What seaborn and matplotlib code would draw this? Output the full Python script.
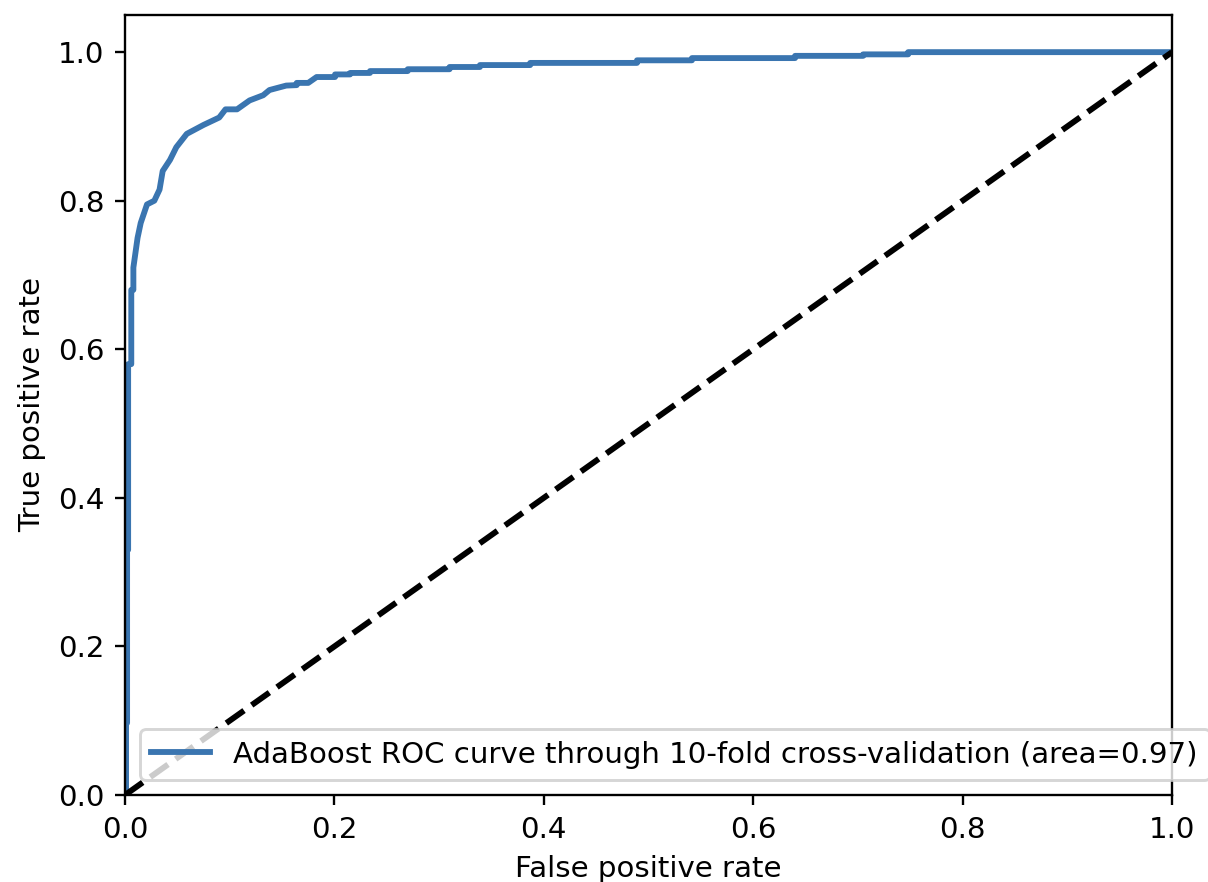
import matplotlib
matplotlib.use("Agg")
import matplotlib.pyplot as plt
import seaborn as sns
import pandas as pd

# ROC curve points (false positive rate, true positive rate)
fpr = [0.0, 0.001, 0.001, 0.002, 0.002, 0.003, 0.003, 0.006, 0.006, 0.008, 0.008,
       0.010, 0.012, 0.015, 0.021, 0.028, 0.033, 0.036, 0.043, 0.049, 0.059,
       0.075, 0.090, 0.096, 0.107, 0.119, 0.132, 0.138, 0.154, 0.164, 0.164,
       0.175, 0.183, 0.2006, 0.2006, 0.215, 0.215, 0.234, 0.234, 0.270, 0.270,
       0.310, 0.310, 0.339, 0.339, 0.387, 0.387, 0.489, 0.489, 0.5415, 0.5415,
       0.640, 0.640, 0.705, 0.705, 0.748, 0.748, 1.0]
tpr = [0.0, 0.0, 0.097, 0.097, 0.33, 0.33, 0.58, 0.58, 0.68, 0.68, 0.71,
       0.73, 0.75, 0.77, 0.795, 0.80, 0.815, 0.84, 0.855, 0.872, 0.89,
       0.902, 0.912, 0.923, 0.923, 0.935, 0.942, 0.949, 0.955, 0.9556, 0.9586,
       0.9586, 0.9665, 0.9665, 0.970, 0.970, 0.972, 0.972, 0.9745, 0.9745, 0.977,
       0.977, 0.980, 0.980, 0.9826, 0.9826, 0.9855, 0.9855, 0.989, 0.989, 0.992,
       0.992, 0.995, 0.995, 0.997, 0.997, 1.0, 1.0]
chance_x = [0.0, 1.0]
chance_y = [0.0, 1.0]
curve_label = "AdaBoost ROC curve through 10-fold cross-validation (area=0.97)"

df = pd.DataFrame({"fpr": fpr, "tpr": tpr})

DPI = 211
fig = plt.figure(figsize=(1208 / DPI, 882 / DPI), dpi=DPI)
ax = fig.add_axes([125 / 1208, 87 / 882, (1172 - 125) / 1208, (795 - 15) / 882])

sns.lineplot(data=df, x="fpr", y="tpr", sort=False, estimator=None, ax=ax,
             color="#3a75b0", linewidth=2, label=curve_label)
ax.plot(chance_x, chance_y, "k--", linewidth=2)

ax.set_xlim(0, 1.0)
ax.set_ylim(0, 1.05)
ax.set_xlabel("False positive rate")
ax.set_ylabel("True positive rate")
ax.legend(loc="lower left")

fig.savefig("out.png", dpi=DPI)
